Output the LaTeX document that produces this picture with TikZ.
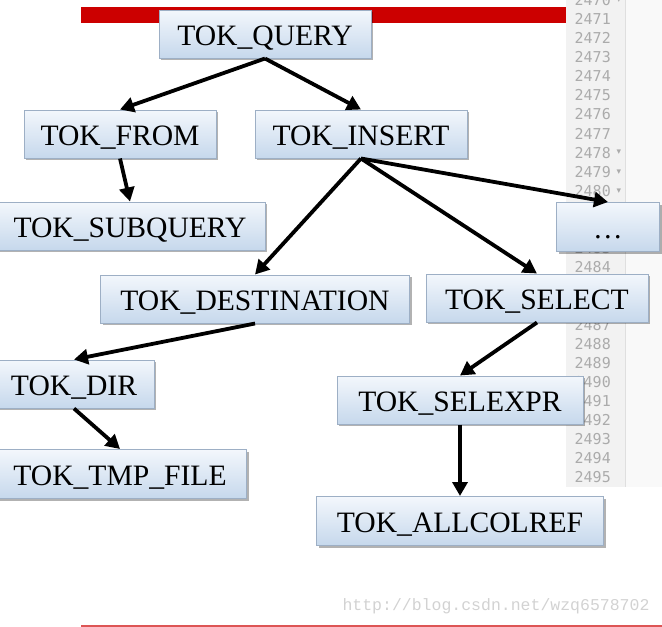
\documentclass[tikz,border=0pt]{standalone}
\usepackage{fontspec}
\setmainfont{Liberation Serif}
\newfontfamily\numfont{DejaVu Sans Mono}
\newfontfamily\markfont{Liberation Mono}
\newfontfamily\symfont{DejaVu Sans}
\usepackage{xcolor}
\usepackage{tikz}
\usetikzlibrary{arrows.meta, positioning, shadows}

\definecolor{barred}{HTML}{CC0000}
\definecolor{linered}{HTML}{DD5555}
\definecolor{tokborder}{HTML}{9DAFC5}
\definecolor{toktop}{HTML}{F3F7FC}
\definecolor{tokbottom}{HTML}{C6D8EC}
\definecolor{panelgray}{HTML}{F2F2F2}
\definecolor{numgray}{HTML}{ABABAB}

\begin{document}
\begin{tikzpicture}[
    x=1pt, y=-1pt,
    font=\fontsize{29.6}{34}\selectfont,
    % Estilos de Nodos
    tok/.style={rectangle, draw=tokborder, line width=1pt, top color=toktop, bottom color=tokbottom, minimum height=48pt, inner sep=0pt, text height=22pt, text depth=0pt, align=center, drop shadow={shadow xshift=2pt, shadow yshift=-2pt, opacity=0.3, fill=black}},
    linenum/.style={anchor=east, text=numgray, font=\numfont\fontsize{15}{15}\selectfont, inner sep=0pt},
    fold/.style={text=numgray, font=\symfont\fontsize{9}{9}\selectfont, inner sep=0pt},
    % Estilos de Flechas
    arrow/.style={-{Triangle[length=14pt, width=15pt]}, line width=3.8pt, draw=black}
]
\useasboundingbox (0,0) rectangle (662,627);
\clip (0,0) rectangle (662,627);

% 1. Fondo (barra, columna de lineas, marca)
\fill[barred] (81,7) rectangle (566,23);
\fill[panelgray] (566,0) rectangle (625,487);
\fill[gray!5] (625,0) rectangle (662,487);
\draw[gray!25] (625,0) -- (625,487);
\foreach \n in {2470,...,2495}
    \node[linenum] (ln\n) at (611, {19+(\n-2471)*19.1}) {\n};
\foreach \n in {2470,2478,2479,2480}
    \node[fold] (fd\n) at (619, {19+(\n-2471)*19.1}) {▾};
\node[text=gray!35, font=\markfont\fontsize{16.5}{16.5}\selectfont, inner sep=0pt] (mark) at (496,606) {http://blog.csdn.net/wzq6578702};
\draw[linered, line width=2pt] (81,626) -- (662,626);

% 2. Raiz y primer nivel
\node[tok, minimum width=212pt] (query) at (265,34) {TOK\_QUERY};
\node[tok, minimum width=192pt] (from) at (120,134) {TOK\_FROM};
\node[tok, minimum width=212pt] (insert) at (361,134) {TOK\_INSERT};

\draw[arrow] (query.south) -- (from.north);
\draw[arrow] (query.south) -- (insert.north);

% 3. Hijos de FROM e INSERT
\node[tok, minimum width=270pt] (subquery) at (130,226) {TOK\_SUBQUERY};
\node[tok, minimum width=103pt, minimum height=49pt] (more) at (608,227) {\ldots};
\node[tok, minimum width=309pt] (dest) at (255,299) {TOK\_DESTINATION};
\node[tok, minimum width=222pt] (select) at (537,298) {TOK\_SELECT};

\draw[arrow] (from.south) -- (subquery.north);
\draw[arrow] (insert.south) -- (dest.north);
\draw[arrow] (insert.south) -- (select.north);
\draw[arrow] (insert.south) -- (more.north);

% 4. Destino y seleccion
\node[tok, minimum width=160pt] (dir) at (74,384) {TOK\_DIR};
\node[tok, minimum width=253pt, minimum height=49pt] (tmpfile) at (120,474) {TOK\_TMP\_FILE};
\node[tok, minimum width=246pt] (selexpr) at (460,400) {TOK\_SELEXPR};
\node[tok, minimum width=287pt, minimum height=49pt] (allcolref) at (460,521) {TOK\_ALLCOLREF};

\draw[arrow] (dest.south) -- (dir.north);
\draw[arrow] (dir.south) -- (tmpfile.north);
\draw[arrow] (select.south) -- (selexpr.north);
\draw[arrow] (selexpr.south) -- (allcolref.north);

\end{tikzpicture}
\end{document}
